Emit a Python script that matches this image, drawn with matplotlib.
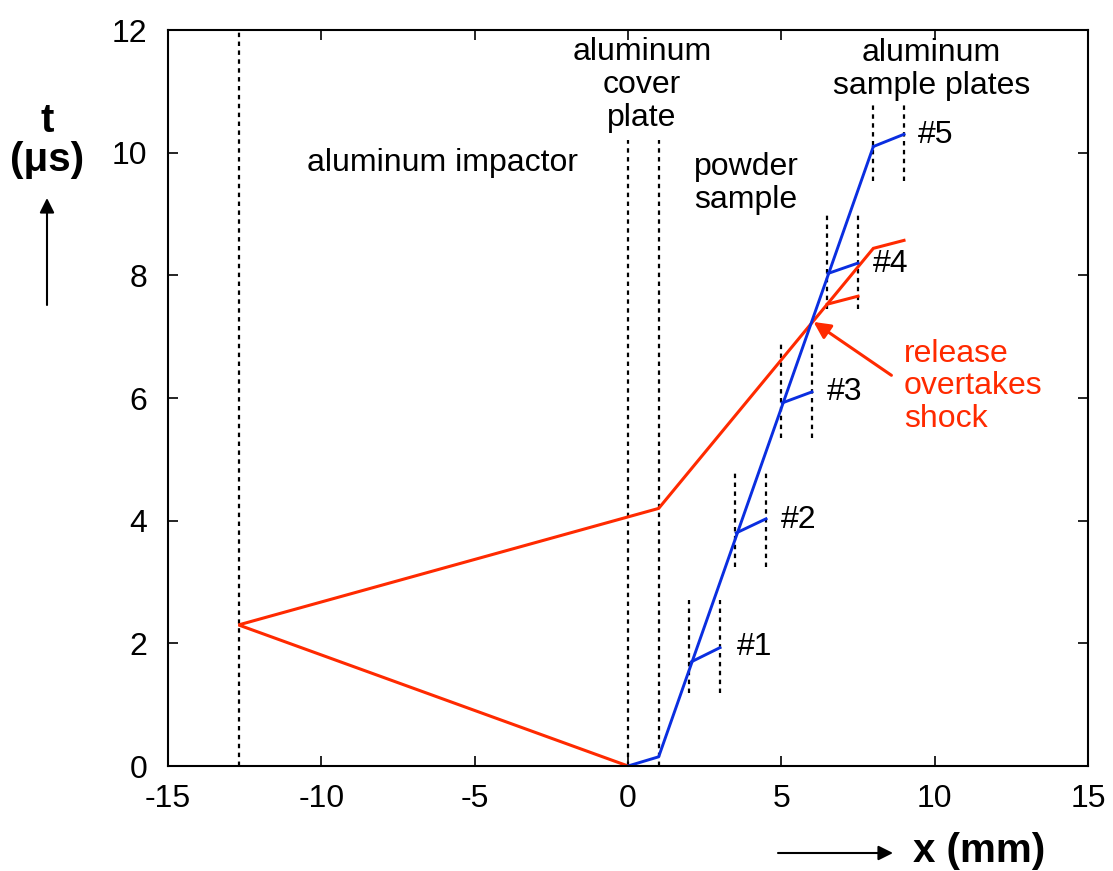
import matplotlib
matplotlib.use('Agg')
import matplotlib.pyplot as plt

plt.rcParams['font.family'] = ['Liberation Sans', 'DejaVu Sans']
plt.rcParams['axes.unicode_minus'] = False

RED = '#ff2a00'
BLUE = '#0a2ee0'

# impactor back face and cover plate faces (mm)
impactor_x = -12.7
cover_x = [0.0, 1.0]
cover_top = 10.2

# red release path (x mm, t us)
red_x = [0.0, -12.7, 1.0, 8.0, 9.0]
red_t = [0.0, 2.3, 4.2, 8.44, 8.57]
red_branch_x = [6.5, 7.5]
red_branch_t = [7.53, 7.66]

# blue shock path through cover plate and powder
blue_x = [0.0, 1.0, 8.0]
blue_t = [0.0, 0.15, 10.1]

# sample plates #1..#5
plate_x0 = [2.0, 3.5, 5.0, 6.5, 8.0]
plate_x1 = [3.0, 4.5, 6.0, 7.5, 9.0]
plate_lo = [1.19, 3.24, 5.34, 7.45, 9.53]
plate_hi = [2.71, 4.78, 6.88, 8.98, 10.78]
branch_x0 = [2.07, 3.53, 5.03, 6.52, 8.0]
branch_t0 = [1.70, 3.80, 5.92, 8.03, 10.1]
branch_t1 = [1.93, 4.03, 6.10, 8.20, 10.30]
plate_labels = ['#1', '#2', '#3', '#4', '#5']
label_x = [3.55, 4.98, 6.50, 7.97, 9.44]
label_t = [1.94, 4.01, 6.10, 8.19, 10.29]

W, H = 1113, 871
fig = plt.figure(figsize=(W / 100, H / 100), dpi=100)
ax = fig.add_axes([168 / W, 1 - 766 / H, 920 / W, 736 / H])

fs = 23
lsp = 1.13
dot = dict(color='black', lw=1.6, ls=(0, (2, 2)))

ax.plot([impactor_x, impactor_x], [0, 12], **dot)
for cx in cover_x:
    ax.plot([cx, cx], [0, cover_top], **dot)
for x0, x1, lo, hi in zip(plate_x0, plate_x1, plate_lo, plate_hi):
    ax.plot([x0, x0], [lo, hi], **dot)
    ax.plot([x1, x1], [lo, hi], **dot)

ax.plot(red_x, red_t, color=RED, lw=2.2, solid_joinstyle='miter')
ax.plot(red_branch_x, red_branch_t, color=RED, lw=2.2)
ax.plot(blue_x, blue_t, color=BLUE, lw=2.1)
for x0, t0, x1, t1 in zip(branch_x0, branch_t0, plate_x1, branch_t1):
    ax.plot([x0, x1], [t0, t1], color=BLUE, lw=2.1)

for lab, lx, lt in zip(plate_labels, label_x, label_t):
    ax.text(lx, lt, lab, fontsize=fs, ha='left', va='center')

ax.text(-6.05, 9.83, 'aluminum impactor', fontsize=fs, ha='center', va='center')
ax.text(0.45, 11.1, 'aluminum\ncover\nplate', fontsize=fs, ha='center', va='center',
        linespacing=lsp)
ax.text(3.85, 9.5, 'powder\nsample', fontsize=fs, ha='center', va='center',
        linespacing=lsp)
ax.text(9.9, 11.35, 'aluminum\nsample plates', fontsize=fs, ha='center', va='center',
        linespacing=lsp)
ax.text(9.0, 6.19, 'release\novertakes\nshock', fontsize=fs, ha='left', va='center',
        color=RED, linespacing=lsp * 0.97)
ax.annotate('', xy=(6.05, 7.24), xytext=(8.59, 6.37),
            arrowprops=dict(arrowstyle='-|>', color=RED, lw=2.2, mutation_scale=25,
                            shrinkA=0, shrinkB=0))

ax.set_xlim(-15, 15)
ax.set_ylim(0, 12)
ax.set_xticks(range(-15, 16, 5))
ax.set_yticks(range(0, 13, 2))
ax.tick_params(direction='in', length=7, width=1.2, top=True, right=True,
               labelsize=fs)
ax.tick_params(axis='x', pad=13)
ax.tick_params(axis='y', pad=15)
for s in ax.spines.values():
    s.set_linewidth(1.5)

# axis labels with arrows
fig.text(47 / W, 1 - 121 / H, 't', fontsize=29, fontweight='bold',
         ha='center', va='center')
fig.text(47 / W, 1 - 160 / H, '(μs)', fontsize=29, fontweight='bold',
         ha='center', va='center')
fig.text(979 / W, 1 - 851 / H, 'x (mm)', fontsize=29, fontweight='bold',
         ha='center', va='center')
arr = dict(arrowstyle='-|>', color='black', lw=1.5, mutation_scale=22,
           shrinkA=0, shrinkB=0)
fig.add_artist(matplotlib.patches.FancyArrowPatch((47 / W, 1 - 305 / H), (47 / W, 1 - 198 / H),
               transform=fig.transFigure, **arr))
fig.add_artist(matplotlib.patches.FancyArrowPatch((778 / W, 1 - 853 / H), (893 / W, 1 - 853 / H),
               transform=fig.transFigure, **arr))

fig.savefig('out.png', dpi=100)
